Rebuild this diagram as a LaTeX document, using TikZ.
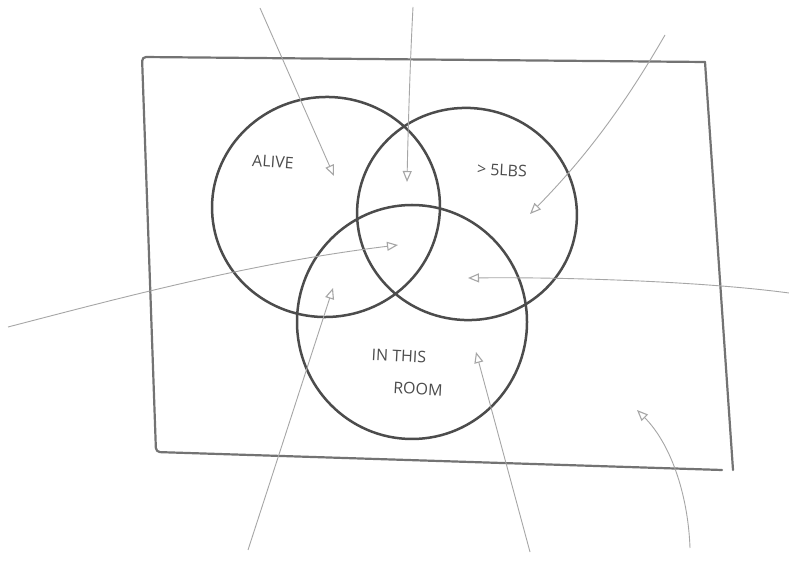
\documentclass[tikz,border=0pt]{standalone}
\usepackage{fontspec}
\setmainfont{Open Sans}
\usetikzlibrary{arrows.meta,shapes.geometric}
\begin{document}
\begin{tikzpicture}[x=1pt,y=1pt,
  frame/.style={draw=black!55,line width=2.2pt,line join=round,line cap=round,rounded corners=4pt},
  setring/.style={draw=black!70,line width=2.5pt,fill=none},
  pointer/.style={draw=black!35,line width=0.9pt,-{Triangle[open,length=11pt,width=9pt,line width=1.1pt]}},
  hand/.style={text=black!70,font=\fontsize{16}{18}\selectfont,align=center}]
\useasboundingbox (0,0) rectangle (789,583);
\fill[white] (0,0) rectangle (789,583);
% frame
\coordinate (tl) at (142,526);
\coordinate (tr) at (705,521);
\coordinate (br) at (733,113);
\coordinate (bl) at (156,131);
\draw[frame] (tr) -- (tl) -- (bl) -- (722,113);
\draw[frame] (tr) -- (br);
% circles
\node[setring,ellipse,minimum width=228pt,minimum height=220pt,inner sep=0pt,rotate=5] (alive) at (326,376) {};
\node[setring,ellipse,minimum width=220pt,minimum height=212pt,inner sep=0pt,rotate=-8] (lbs) at (467,369) {};
\node[setring,ellipse,minimum width=230pt,minimum height=234pt,inner sep=0pt] (room) at (412,261) {};
% labels
\node[hand,rotate=-4] (talive) at (273,421) {ALIVE};
\node[hand,rotate=-3] (tlbs) at (502,413) {> 5LBS};
\node[hand,rotate=-3] (tin) at (399,227) {IN THIS};
\node[hand,rotate=-3] (troom) at (418,194) {ROOM};
% arrow endpoints
\coordinate (s1) at (260,575); \coordinate (e1) at (334,407);
\coordinate (s2) at (413,576); \coordinate (e2) at (407,401);
\coordinate (s3) at (665,548); \coordinate (e3) at (530,369);
\coordinate (s4) at (8,256);   \coordinate (e4) at (398,338);
\coordinate (s5) at (789,290); \coordinate (e5) at (468,305);
\coordinate (s6) at (248,33);  \coordinate (e6) at (333,295);
\coordinate (s7) at (530,31);  \coordinate (e7) at (476,231);
\coordinate (s8) at (690,35);  \coordinate (e8) at (637,173);
% arrows
\draw[pointer] (s1) -- (e1);
\draw[pointer] (s2) .. controls (410,520) and (408,450) .. (e2);
\draw[pointer] (s3) .. controls (620,470) and (580,420) .. (e3);
\draw[pointer] (s4) .. controls (120,285) and (250,320) .. (e4);
\draw[pointer] (s5) .. controls (700,302) and (560,306) .. (e5);
\draw[pointer] (s6) -- (e6);
\draw[pointer] (s7) -- (e7);
\draw[pointer] (s8) .. controls (688,90) and (670,140) .. (e8);
\end{tikzpicture}
\end{document}
